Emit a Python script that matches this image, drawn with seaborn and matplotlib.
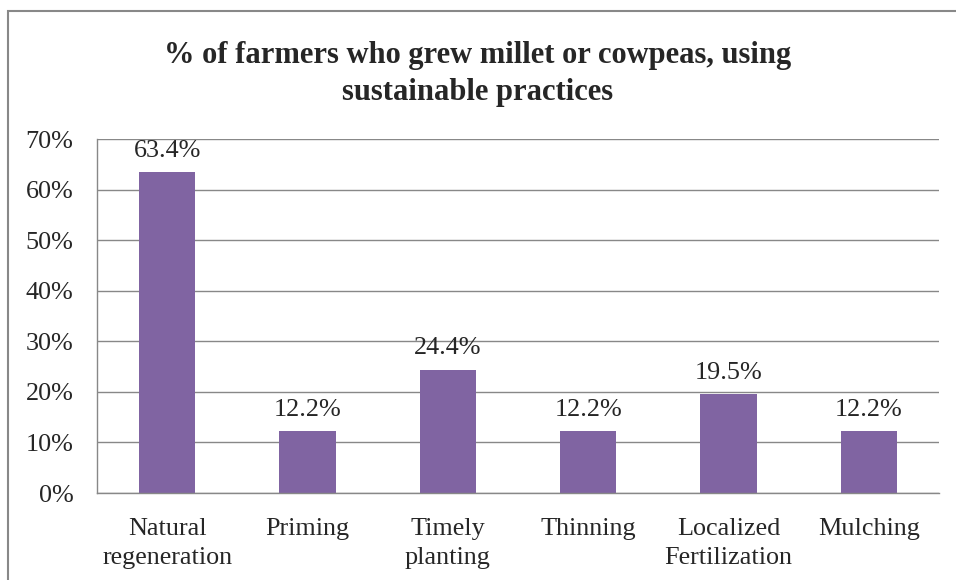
import matplotlib
matplotlib.use("Agg")
import matplotlib.pyplot as plt
import seaborn as sns
import pandas as pd
from matplotlib.patches import Rectangle

categories = ["Natural\nregeneration", "Priming", "Timely\nplanting", "Thinning", "Localized\nFertilization", "Mulching"]
values = [63.4, 12.2, 24.4, 12.2, 19.5, 12.2]
yticks = [0, 10, 20, 30, 40, 50, 60, 70]
title = "% of farmers who grew millet or cowpeas, using\nsustainable practices"

sns.set_style("white")
plt.rcParams['font.family'] = ['Liberation Serif', 'DejaVu Serif']

df = pd.DataFrame({"cat": categories, "val": values})

fig = plt.figure(figsize=(9.56, 5.8), dpi=100)
ax = fig.add_axes([97/956, 1-493/580, (939-97)/956, (493-139)/580])
sns.barplot(data=df, x="cat", y="val", color="#8064A2", width=0.4, ax=ax,
            saturation=1, edgecolor="none", linewidth=0)

fs = 18.8
ax.set_ylim(0, 70)
ax.set_xlim(-0.5, len(categories)-0.5)
ax.set_yticks(yticks)
ax.set_yticklabels([f"{t}%" for t in yticks], fontsize=fs)
ax.set_xticks(range(len(categories)))
ax.set_xticklabels(categories, fontsize=fs, linespacing=1.42)
ax.set_xlabel("")
ax.set_ylabel("")
ax.yaxis.grid(True, color="#888888", linewidth=1)
ax.set_axisbelow(True)
for s in ["top", "right"]:
    ax.spines[s].set_visible(False)
for s in ["left", "bottom"]:
    ax.spines[s].set_color("#888888")
    ax.spines[s].set_linewidth(1)
ax.tick_params(axis="y", length=0, pad=17)
ax.tick_params(axis="x", length=0, pad=18)

for i, v in enumerate(values):
    ax.text(i, v + 2.1, f"{v:.1f}%", ha="center", va="bottom", fontsize=fs)

fig.text(478/956, 1-74/580, title, ha="center", va="center", fontsize=22,
         fontweight="bold", linespacing=1.35)

fig.patches.append(Rectangle((8/956, -0.1), 1.2, 1.1 - 11/580, transform=fig.transFigure,
                             fill=False, edgecolor="#888888", linewidth=1.5))

fig.savefig("out.png", dpi=100)
